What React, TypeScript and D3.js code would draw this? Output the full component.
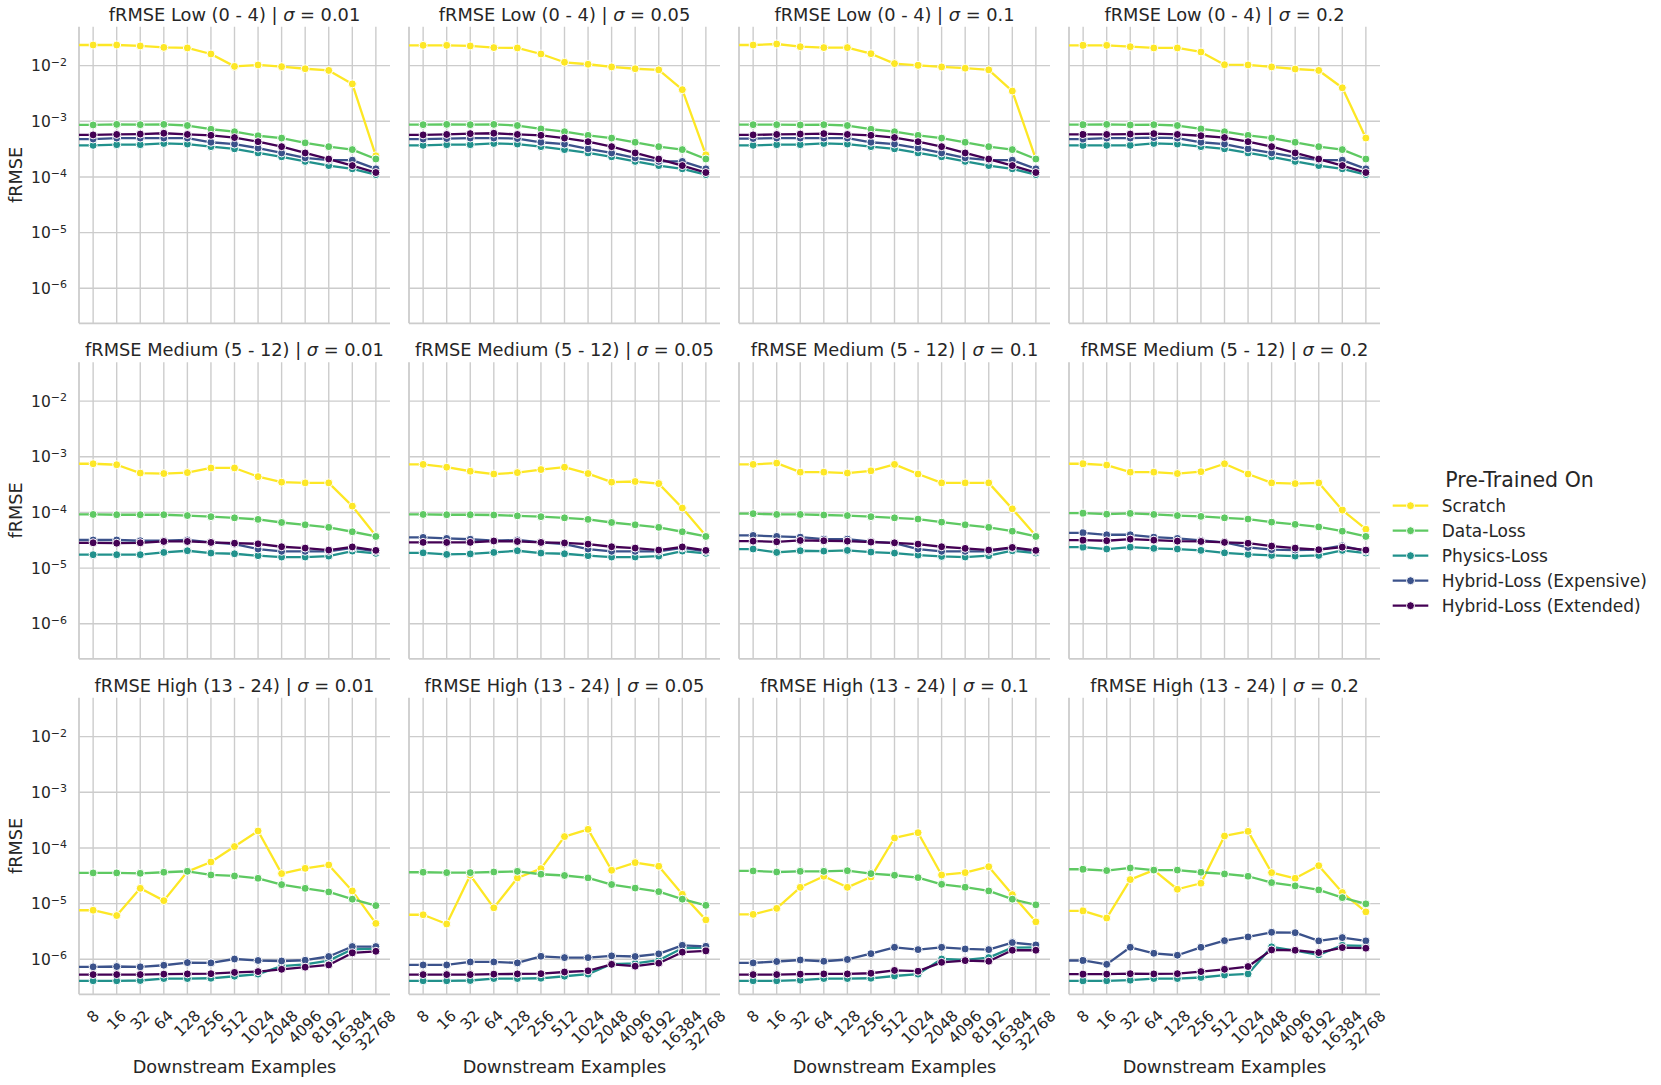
import React, { useEffect, useRef } from 'react'
import * as d3 from 'd3'

// downstream example counts (x axis)
const examples = [8, 16, 32, 64, 128, 256, 512, 1024, 2048, 4096, 8192, 16384, 32768]
const sigmas = ['0.01', '0.05', '0.1', '0.2']
const bands = ['Low (0 - 4)', 'Medium (5 - 12)', 'High (13 - 24)']
const seriesNames = ['Scratch', 'Data-Loss', 'Physics-Loss', 'Hybrid-Loss (Expensive)', 'Hybrid-Loss (Extended)']
const seriesColors = ['#fde725', '#5ec962', '#21918c', '#3b528b', '#440154']
const yTicks = [1e-6, 1e-5, 1e-4, 1e-3, 1e-2]
const yExponents = ['−6', '−5', '−4', '−3', '−2']

// each array: one row of values per sigma (0.01, 0.05, 0.1, 0.2)
const scratchLow = [
  [0.0235, 0.0235, 0.0226, 0.0213, 0.0208, 0.0162, 0.0097, 0.0103, 0.0096, 0.0088, 0.0082, 0.0047, 0.00024],
  [0.0232, 0.0232, 0.0226, 0.0211, 0.0208, 0.0162, 0.0115, 0.0106, 0.0095, 0.0088, 0.0084, 0.0037, 0.00025],
  [0.0235, 0.0245, 0.0219, 0.0211, 0.0211, 0.0164, 0.0109, 0.0101, 0.0095, 0.009, 0.0084, 0.0035, 0.00021],
  [0.0232, 0.0232, 0.0219, 0.0208, 0.0208, 0.0176, 0.0104, 0.0103, 0.0095, 0.0087, 0.0082, 0.004, 0.0005],
]
const dataLow = [
  [0.00086, 0.00088, 0.00087, 0.00088, 0.00084, 0.00072, 0.00065, 0.00055, 0.0005, 0.00041, 0.00035, 0.00031, 0.00021],
  [0.00087, 0.00088, 0.00087, 0.00088, 0.00084, 0.00073, 0.00065, 0.00056, 0.0005, 0.00042, 0.00035, 0.00031, 0.00021],
  [0.00087, 0.00087, 0.00086, 0.00087, 0.00084, 0.00072, 0.00065, 0.00056, 0.0005, 0.00042, 0.00035, 0.00031, 0.00021],
  [0.00087, 0.00088, 0.00086, 0.00087, 0.00084, 0.00073, 0.00065, 0.00056, 0.0005, 0.00042, 0.00035, 0.00031, 0.00021],
]
const physicsLow = [
  [0.00037, 0.00038, 0.00038, 0.0004, 0.00039, 0.00035, 0.00032, 0.00027, 0.00023, 0.00019, 0.00016, 0.00014, 0.00011],
  [0.00037, 0.00038, 0.00038, 0.0004, 0.00039, 0.00035, 0.00031, 0.00027, 0.00023, 0.00019, 0.00016, 0.00014, 0.00011],
  [0.00037, 0.00038, 0.00038, 0.0004, 0.00039, 0.00035, 0.00032, 0.00027, 0.00023, 0.00019, 0.00016, 0.00014, 0.00011],
  [0.00037, 0.00037, 0.00037, 0.0004, 0.00039, 0.00035, 0.00032, 0.00027, 0.00023, 0.00019, 0.00016, 0.00014, 0.00011],
]
const expensiveLow = [
  [0.00048, 0.0005, 0.0005, 0.0005, 0.0005, 0.00042, 0.00039, 0.00033, 0.00027, 0.00022, 0.0002, 0.0002, 0.00014],
  [0.00048, 0.00049, 0.0005, 0.0005, 0.00049, 0.00042, 0.00039, 0.00032, 0.00027, 0.00022, 0.00019, 0.00019, 0.00014],
  [0.00049, 0.0005, 0.0005, 0.0005, 0.0005, 0.00042, 0.00039, 0.00033, 0.00027, 0.00022, 0.0002, 0.0002, 0.00014],
  [0.00048, 0.0005, 0.0005, 0.00051, 0.0005, 0.00042, 0.00039, 0.00032, 0.00027, 0.00023, 0.0002, 0.0002, 0.00014],
]
const extendedLow = [
  [0.00057, 0.00058, 0.00059, 0.00061, 0.00058, 0.00056, 0.00051, 0.00043, 0.00035, 0.00027, 0.00021, 0.00016, 0.00012],
  [0.00057, 0.00058, 0.0006, 0.00061, 0.00058, 0.00056, 0.0005, 0.00043, 0.00035, 0.00027, 0.00021, 0.00016, 0.00012],
  [0.00057, 0.00058, 0.00059, 0.0006, 0.00058, 0.00056, 0.00051, 0.00043, 0.00035, 0.00027, 0.00021, 0.00016, 0.00012],
  [0.00058, 0.00058, 0.00059, 0.0006, 0.00058, 0.00055, 0.00051, 0.00043, 0.00035, 0.00027, 0.00021, 0.00016, 0.00012],
]

const scratchMed = [
  [0.00075, 0.00072, 0.00051, 0.0005, 0.00052, 0.00063, 0.00063, 0.00044, 0.00035, 0.00034, 0.00034, 0.00013, 0.000038],
  [0.00073, 0.00065, 0.00055, 0.00049, 0.00052, 0.00059, 0.00065, 0.0005, 0.00035, 0.00036, 0.00033, 0.00012, 0.000038],
  [0.00073, 0.00077, 0.00053, 0.00053, 0.00051, 0.00056, 0.00073, 0.00049, 0.00034, 0.00034, 0.00034, 0.000116, 0.000038],
  [0.00075, 0.00071, 0.00053, 0.00053, 0.0005, 0.00054, 0.00075, 0.00049, 0.00034, 0.00033, 0.00034, 0.00011, 0.00005],
]
const dataMed = [
  [0.000092, 0.000091, 0.000091, 0.000091, 0.000088, 0.000084, 0.00008, 0.000075, 0.000066, 0.00006, 0.000054, 0.000045, 0.000037],
  [0.000092, 0.000091, 0.000091, 0.00009, 0.000087, 0.000084, 0.00008, 0.000075, 0.000066, 0.00006, 0.000054, 0.000045, 0.000037],
  [0.000095, 0.000092, 0.000092, 0.00009, 0.000088, 0.000084, 0.00008, 0.000076, 0.000067, 0.00006, 0.000054, 0.000046, 0.000037],
  [0.000097, 0.000093, 0.000096, 0.000092, 0.000088, 0.000085, 0.00008, 0.000076, 0.000067, 0.000061, 0.000055, 0.000046, 0.000037],
]
const physicsMed = [
  [0.0000174, 0.0000174, 0.0000174, 0.0000191, 0.0000205, 0.0000186, 0.0000181, 0.0000167, 0.0000158, 0.0000158, 0.0000164, 0.0000202, 0.0000184],
  [0.0000188, 0.0000176, 0.000018, 0.0000191, 0.0000205, 0.0000186, 0.0000181, 0.0000167, 0.0000158, 0.0000158, 0.0000164, 0.0000202, 0.0000184],
  [0.000022, 0.0000191, 0.0000205, 0.0000202, 0.0000208, 0.0000194, 0.0000186, 0.0000171, 0.0000162, 0.0000158, 0.0000167, 0.0000205, 0.0000186],
  [0.0000238, 0.000022, 0.0000238, 0.0000226, 0.000022, 0.0000208, 0.0000188, 0.0000176, 0.0000169, 0.0000164, 0.0000169, 0.0000208, 0.0000186],
]
const expensiveMed = [
  [0.000032, 0.000032, 0.000031, 0.000031, 0.000032, 0.000029, 0.000027, 0.000022, 0.00002, 0.00002, 0.00002, 0.000023, 0.00002],
  [0.0000356, 0.0000341, 0.000033, 0.000031, 0.000032, 0.000029, 0.000027, 0.000022, 0.00002, 0.00002, 0.00002, 0.000023, 0.00002],
  [0.0000386, 0.0000371, 0.000036, 0.0000332, 0.0000332, 0.00003, 0.000028, 0.000022, 0.00002, 0.00002, 0.00002, 0.000023, 0.00002],
  [0.0000431, 0.0000397, 0.0000397, 0.000036, 0.0000341, 0.0000314, 0.000029, 0.0000235, 0.0000214, 0.0000211, 0.0000214, 0.0000252, 0.0000202],
]
const extendedMed = [
  [0.0000285, 0.000028, 0.0000285, 0.0000301, 0.0000301, 0.0000289, 0.000028, 0.0000273, 0.0000242, 0.0000229, 0.0000211, 0.000024, 0.0000208],
  [0.000029, 0.0000289, 0.000029, 0.0000307, 0.0000301, 0.0000289, 0.0000283, 0.000027, 0.0000242, 0.0000229, 0.0000211, 0.000024, 0.0000208],
  [0.0000305, 0.0000297, 0.0000314, 0.000031, 0.0000305, 0.0000293, 0.0000285, 0.000027, 0.0000242, 0.0000226, 0.0000211, 0.0000235, 0.0000208],
  [0.0000318, 0.000031, 0.0000332, 0.0000318, 0.0000305, 0.0000301, 0.000029, 0.000028, 0.0000249, 0.0000229, 0.0000214, 0.0000238, 0.0000211],
]

const scratchHigh = [
  [7.6e-6, 6.1e-6, 1.88e-5, 1.13e-5, 3.76e-5, 5.6e-5, 1.06e-4, 2.02e-4, 3.46e-5, 4.3e-5, 4.95e-5, 1.69e-5, 4.4e-6],
  [6.3e-6, 4.3e-6, 3.23e-5, 8.4e-6, 2.89e-5, 4.25e-5, 1.6e-4, 2.16e-4, 3.97e-5, 5.45e-5, 4.69e-5, 1.47e-5, 5.1e-6],
  [6.4e-6, 8.2e-6, 1.96e-5, 3.1e-5, 1.96e-5, 3.0e-5, 1.51e-4, 1.88e-4, 3.27e-5, 3.6e-5, 4.6e-5, 1.45e-5, 4.7e-6],
  [7.4e-6, 5.5e-6, 2.7e-5, 4.0e-5, 1.81e-5, 2.32e-5, 1.64e-4, 1.99e-4, 3.6e-5, 2.85e-5, 4.8e-5, 1.58e-5, 7.1e-6],
]
const dataHigh = [
  [3.56e-5, 3.56e-5, 3.5e-5, 3.66e-5, 3.81e-5, 3.27e-5, 3.14e-5, 2.85e-5, 2.19e-5, 1.88e-5, 1.62e-5, 1.2e-5, 9.2e-6],
  [3.66e-5, 3.6e-5, 3.6e-5, 3.7e-5, 3.8e-5, 3.37e-5, 3.2e-5, 2.9e-5, 2.2e-5, 1.9e-5, 1.64e-5, 1.2e-5, 9.3e-6],
  [3.86e-5, 3.7e-5, 3.8e-5, 3.8e-5, 3.9e-5, 3.46e-5, 3.23e-5, 2.93e-5, 2.22e-5, 1.97e-5, 1.69e-5, 1.2e-5, 9.5e-6],
  [4.14e-5, 3.92e-5, 4.37e-5, 4.0e-5, 4.0e-5, 3.66e-5, 3.41e-5, 3.1e-5, 2.38e-5, 2.08e-5, 1.76e-5, 1.28e-5, 9.9e-6],
]
const physicsHigh = [
  [4.1e-7, 4.1e-7, 4.15e-7, 4.5e-7, 4.5e-7, 4.55e-7, 4.95e-7, 5.4e-7, 7.5e-7, 8.1e-7, 9.45e-7, 1.51e-6, 1.55e-6],
  [4.1e-7, 4.1e-7, 4.15e-7, 4.5e-7, 4.5e-7, 4.55e-7, 4.95e-7, 5.4e-7, 8.2e-7, 8.4e-7, 9.6e-7, 1.58e-6, 1.62e-6],
  [4.1e-7, 4.1e-7, 4.2e-7, 4.5e-7, 4.5e-7, 4.55e-7, 5.0e-7, 5.4e-7, 1.01e-6, 9.7e-7, 1.07e-6, 1.62e-6, 1.64e-6],
  [4.1e-7, 4.1e-7, 4.2e-7, 4.5e-7, 4.5e-7, 4.7e-7, 5.2e-7, 5.45e-7, 1.67e-6, 1.43e-6, 1.2e-6, 1.78e-6, 1.74e-6],
]
const expensiveHigh = [
  [7.3e-7, 7.4e-7, 7.3e-7, 7.8e-7, 8.7e-7, 8.6e-7, 1.01e-6, 9.5e-7, 9.3e-7, 9.6e-7, 1.12e-6, 1.69e-6, 1.69e-6],
  [7.9e-7, 7.9e-7, 8.95e-7, 8.95e-7, 8.6e-7, 1.13e-6, 1.07e-6, 1.07e-6, 1.15e-6, 1.12e-6, 1.25e-6, 1.78e-6, 1.71e-6],
  [8.6e-7, 9.1e-7, 9.7e-7, 9.2e-7, 9.9e-7, 1.26e-6, 1.64e-6, 1.49e-6, 1.64e-6, 1.53e-6, 1.49e-6, 1.99e-6, 1.81e-6],
  [9.5e-7, 8.1e-7, 1.64e-6, 1.28e-6, 1.18e-6, 1.64e-6, 2.16e-6, 2.52e-6, 3.05e-6, 3.0e-6, 2.14e-6, 2.45e-6, 2.14e-6],
]
const extendedHigh = [
  [5.3e-7, 5.3e-7, 5.3e-7, 5.4e-7, 5.45e-7, 5.5e-7, 5.8e-7, 6.0e-7, 6.6e-7, 7.2e-7, 7.9e-7, 1.3e-6, 1.39e-6],
  [5.3e-7, 5.3e-7, 5.3e-7, 5.4e-7, 5.45e-7, 5.5e-7, 5.9e-7, 6.2e-7, 8.1e-7, 7.5e-7, 8.5e-7, 1.34e-6, 1.41e-6],
  [5.3e-7, 5.3e-7, 5.4e-7, 5.45e-7, 5.45e-7, 5.6e-7, 6.3e-7, 6.1e-7, 8.8e-7, 9.45e-7, 9.2e-7, 1.45e-6, 1.45e-6],
  [5.4e-7, 5.4e-7, 5.5e-7, 5.45e-7, 5.5e-7, 6.0e-7, 6.6e-7, 7.4e-7, 1.47e-6, 1.45e-6, 1.32e-6, 1.62e-6, 1.58e-6],
]

const bandSeries = [
  [scratchLow, dataLow, physicsLow, expensiveLow, extendedLow],
  [scratchMed, dataMed, physicsMed, expensiveMed, extendedMed],
  [scratchHigh, dataHigh, physicsHigh, expensiveHigh, extendedHigh],
]

const width = 1661
const height = 1085
const panelW = 311
const panelH = 296.6
const left0 = 79
const top0 = 26.7
const colStep = 330
const rowStep = 335.5
const grid = '#cccccc'
const ink = '#262626'
const font = '"DejaVu Sans", sans-serif'
const lineW = 2.3
const markerR = 4

export default function App() {
  const svgRef = useRef<SVGSVGElement>(null)

  useEffect(() => {
    if (!svgRef.current) return
    const svg = d3.select(svgRef.current)
    svg.selectAll('*').remove()

    svg.append('rect').attr('width', width).attr('height', height).attr('fill', '#fff')

    const x = d3.scaleLog().base(2).domain([2 ** 2.4, 2 ** 15.6]).range([0, panelW])
    const y = d3.scaleLog().domain([10 ** -6.63, 10 ** -1.3]).range([panelH, 0])

    bands.forEach((band, r) => {
      sigmas.forEach((sigma, c) => {
        const g = svg
          .append('g')
          .attr('transform', `translate(${left0 + c * colStep},${top0 + r * rowStep})`)

        // grid
        g.selectAll('line.hgrid')
          .data(yTicks)
          .join('line')
          .attr('class', 'hgrid')
          .attr('x1', 0)
          .attr('x2', panelW)
          .attr('y1', (d) => y(d))
          .attr('y2', (d) => y(d))
          .attr('stroke', grid)
          .attr('stroke-width', 1.4)

        g.selectAll('line.vgrid')
          .data(examples)
          .join('line')
          .attr('class', 'vgrid')
          .attr('x1', (d) => x(d))
          .attr('x2', (d) => x(d))
          .attr('y1', 0)
          .attr('y2', panelH)
          .attr('stroke', grid)
          .attr('stroke-width', 1.4)

        // left + bottom spines
        g.append('line')
          .attr('x1', 0).attr('x2', 0).attr('y1', 0).attr('y2', panelH)
          .attr('stroke', grid).attr('stroke-width', 1.8)
        g.append('line')
          .attr('x1', 0).attr('x2', panelW).attr('y1', panelH).attr('y2', panelH)
          .attr('stroke', grid).attr('stroke-width', 1.8)

        // title
        const title = g
          .append('text')
          .attr('x', panelW / 2)
          .attr('y', -6)
          .attr('text-anchor', 'middle')
          .style('font-family', font)
          .style('font-size', '17.8px')
          .style('fill', ink)
        title.append('tspan').text(`fRMSE ${band} | `)
        title.append('tspan').style('font-style', 'italic').text('σ')
        title.append('tspan').text(` = ${sigma}`)

        // series
        bandSeries[r].forEach((series, k) => {
          const vals = series[c]
          const pts: [number, number][] = vals.map((v, i) => [x(examples[i]), y(v)])
          // the line runs in from the left edge (zero-shot point off the log axis)
          const path: [number, number][] = [[x.range()[0], pts[0][1]], ...pts]
          const sg = g.append('g')
          sg.append('path')
            .attr('d', d3.line()(path))
            .attr('fill', 'none')
            .attr('stroke', seriesColors[k])
            .attr('stroke-width', lineW)
            .attr('stroke-linejoin', 'round')
          sg.selectAll('circle')
            .data(vals)
            .join('circle')
            .attr('cx', (d, i) => x(examples[i]))
            .attr('cy', (d) => y(d))
            .attr('r', markerR)
            .attr('fill', seriesColors[k])
            .attr('stroke', '#fff')
            .attr('stroke-width', 1)
        })

        // y tick labels + label on the first column
        if (c === 0) {
          yTicks.forEach((t, i) => {
            const tx = g
              .append('text')
              .attr('x', -12)
              .attr('y', y(t) + 5.6)
              .attr('text-anchor', 'end')
              .style('font-family', font)
              .style('font-size', '15.5px')
              .style('fill', ink)
            tx.append('tspan').text('10')
            tx.append('tspan')
              .attr('dy', '-0.5em')
              .style('font-size', '11px')
              .text(yExponents[i])
          })
          g.append('text')
            .attr('transform', `translate(${22 - left0},${panelH / 2}) rotate(-90)`)
            .attr('text-anchor', 'middle')
            .style('font-family', font)
            .style('font-size', '17.7px')
            .style('fill', ink)
            .text('fRMSE')
        }

        // x tick labels + label on the bottom row
        if (r === bands.length - 1) {
          const fs = 15.5
          const labelTop = panelH + 12.5
          examples.forEach((e) => {
            const t = g
              .append('text')
              .attr('text-anchor', 'middle')
              .attr('dominant-baseline', 'central')
              .style('font-family', font)
              .style('font-size', `${fs}px`)
              .style('fill', ink)
              .text(String(e))
            const w = (t.node() as SVGTextElement).getComputedTextLength()
            const cx = x(e)
            const cy = labelTop + ((w + fs * 1.17) * Math.SQRT1_2) / 2
            t.attr('x', cx).attr('y', cy).attr('transform', `rotate(-45,${cx},${cy})`)
          })
          g.append('text')
            .attr('x', panelW / 2)
            .attr('y', panelH + 79)
            .attr('text-anchor', 'middle')
            .style('font-family', font)
            .style('font-size', '17.7px')
            .style('fill', ink)
            .text('Downstream Examples')
        }
      })
    })

    // legend
    const lg = svg.append('g')
    lg.append('text')
      .attr('x', 1519.5)
      .attr('y', 487)
      .attr('text-anchor', 'middle')
      .style('font-family', font)
      .style('font-size', '20.5px')
      .style('fill', ink)
      .text('Pre-Trained On')
    seriesNames.forEach((name, i) => {
      const cy = 505.7 + i * 25
      lg.append('line')
        .attr('x1', 1392.7).attr('x2', 1428.3).attr('y1', cy).attr('y2', cy)
        .attr('stroke', seriesColors[i]).attr('stroke-width', lineW)
      lg.append('circle')
        .attr('cx', 1410.5).attr('cy', cy).attr('r', markerR)
        .attr('fill', seriesColors[i]).attr('stroke', '#fff').attr('stroke-width', 1)
      lg.append('text')
        .attr('x', 1441.7)
        .attr('y', cy + 6.2)
        .style('font-family', font)
        .style('font-size', '17px')
        .style('fill', ink)
        .text(name)
    })
  }, [])

  return (
    <svg
      ref={svgRef}
      width={width}
      height={height}
      style={{ position: 'absolute', left: 0, top: 0, display: 'block' }}
    />
  )
}
